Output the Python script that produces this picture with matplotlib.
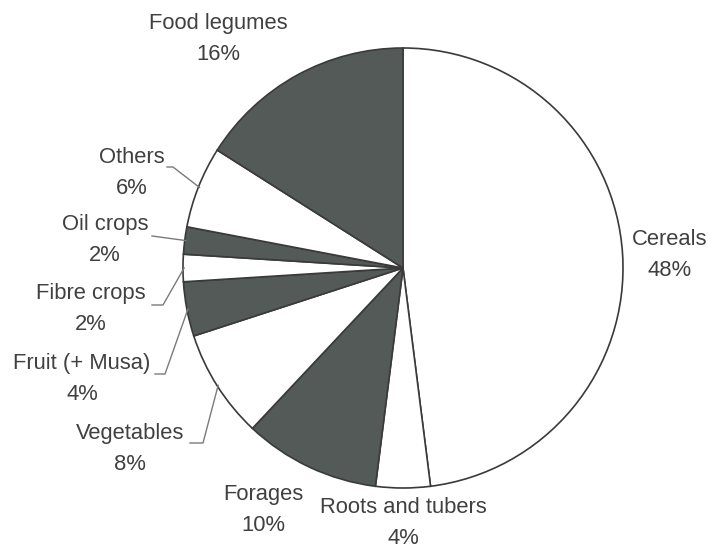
import numpy as np
import matplotlib
matplotlib.use("Agg")
import matplotlib.pyplot as plt

# Share of crop groups (percent), clockwise from 12 o'clock
categories = ["Cereals", "Roots and tubers", "Forages", "Vegetables",
              "Fruit (+ Musa)", "Fibre crops", "Oil crops", "Others",
              "Food legumes"]
shares = [48, 4, 10, 8, 4, 2, 2, 6, 16]
shaded = [False, False, True, False, True, False, True, False, True]

W, H = 711, 551
def Y(p):
    return H - p

plt.rcParams['font.family'] = ['Liberation Sans', 'DejaVu Sans']

fig = plt.figure(figsize=(W / 100, H / 100), dpi=100)
ax = fig.add_axes([0, 0, 1, 1])

cx, cy, r = 403, Y(268), 220
dark = "#535a58"
wedges, _ = ax.pie(shares, startangle=90, counterclock=False,
                   center=(cx, cy), radius=r,
                   colors=[dark if s else "white" for s in shaded],
                   wedgeprops=dict(edgecolor="#3a3a3a", linewidth=1.2),
                   frame=False)
ax.set_xlim(0, W)
ax.set_ylim(0, H)
ax.set_aspect('equal', adjustable='box')
ax.axis('off')

text_color = "#404040"
# Label centres (x, y in pixels from top)
label_pos = {
    "Cereals": (670, 255),
    "Roots and tubers": (403, 523),
    "Forages": (263, 510),
    "Vegetables": (130, 449),
    "Fruit (+ Musa)": (82, 379),
    "Fibre crops": (91, 309),
    "Oil crops": (105, 240),
    "Others": (132, 173),
    "Food legumes": (218, 39),
}
# Leader line elbows (pixels from top); the last point is on the rim
leaders = {
    "Others": [(167, 167), (173, 167)],
    "Oil crops": [(152, 236)],
    "Fibre crops": [(152, 305), (163, 305)],
    "Fruit (+ Musa)": [(155, 374), (165, 374)],
    "Vegetables": [(190, 443), (203, 443)],
}

for w, name, val in zip(wedges, categories, shares):
    x, y = label_pos[name]
    ax.text(x, Y(y), f"{name}\n{val}%", ha="center", va="center",
            multialignment="center", fontsize=15.8, color=text_color,
            linespacing=1.6)
    if name in leaders:
        mid = np.deg2rad((w.theta1 + w.theta2) / 2)
        ex = cx + r * 0.995 * np.cos(mid)
        ey = cy + r * 0.995 * np.sin(mid)
        pts = [(px, Y(py)) for px, py in leaders[name]] + [(ex, ey)]
        xs, ys = zip(*pts)
        ax.plot(xs, ys, color="#7a7a7a", linewidth=1.0)

fig.savefig("out.png", dpi=100, facecolor="white")
